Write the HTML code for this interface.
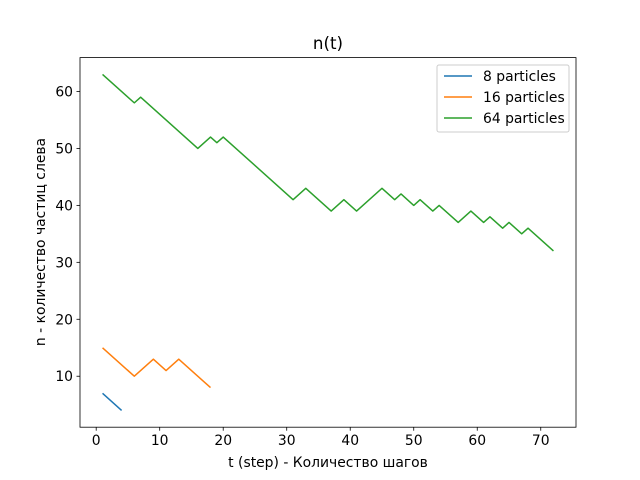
<!DOCTYPE html>
<html><head><meta charset="utf-8"><style>
body{margin:0;background:#fff}
svg{display:block;font-family:"DejaVu Sans","Liberation Sans",sans-serif}
</style></head><body>
<svg id="chart" width="640" height="480" xmlns="http://www.w3.org/2000/svg">
<rect width="640" height="480" fill="#fff"/>
<text x="328" y="49" font-size="16.7" text-anchor="middle">n(t)</text>
<g id="plot"></g>
<rect x="80" y="57.6" width="496" height="369.6" fill="none" stroke="#000" stroke-width="0.8"/>
<text x="328" y="467" font-size="13.9" text-anchor="middle">t (step) - Количество шагов</text>
<text transform="translate(45,242) rotate(-90)" font-size="13.9" text-anchor="middle">n - количество частиц слева</text>
<g>
<rect x="437" y="65" width="132" height="67" rx="2" fill="#fff" fill-opacity="0.8" stroke="#ccc" stroke-width="1"/>
<line x1="444" y1="76" x2="472" y2="76" stroke="#1f77b4" stroke-width="1.5"/>
<text x="483" y="81" font-size="13.9">8 particles</text>
<line x1="444" y1="97" x2="472" y2="97" stroke="#ff7f0e" stroke-width="1.5"/>
<text x="483" y="102" font-size="13.9">16 particles</text>
<line x1="444" y1="118" x2="472" y2="118" stroke="#2ca02c" stroke-width="1.5"/>
<text x="483" y="123" font-size="13.9">64 particles</text>
</g>
</svg>
<script>
const t8=[1,4];
const n8=[7,4];
const t16=[1,6,9,11,13,18];
const n16=[15,10,13,11,13,8];
const t64=[1,6,7,16,18,19,20,31,33,37,39,41,45,47,48,50,51,53,54,57,59,61,62,64,65,67,68,72];
const n64=[63,58,59,50,52,51,52,41,43,39,41,39,43,41,42,40,41,39,40,37,39,37,38,36,37,35,36,32];
const xTicks=[0,10,20,30,40,50,60,70];
const yTicks=[10,20,30,40,50,60];
const NS="http://www.w3.org/2000/svg";
const L=80,R=576,T=57.6,B=427.2;
const allT=t8.concat(t16,t64), allN=n8.concat(n16,n64);
let xmin=Math.min(...allT),xmax=Math.max(...allT),ymin=Math.min(...allN),ymax=Math.max(...allN);
const xp=(xmax-xmin)*0.05,yp=(ymax-ymin)*0.05;xmin-=xp;xmax+=xp;ymin-=yp;ymax+=yp;
const sx=v=>L+(v-xmin)/(xmax-xmin)*(R-L);
const sy=v=>B-(v-ymin)/(ymax-ymin)*(B-T);
const g=document.getElementById('plot');
function mk(tag,a){const e=document.createElementNS(NS,tag);for(const k in a)e.setAttribute(k,a[k]);g.appendChild(e);return e;}
xTicks.forEach(v=>{const x=sx(v);
 const l=mk('line',{x1:x,x2:x,y1:B,y2:B+3.5,stroke:'#000','stroke-width':0.8});
 
 
 const t=mk('text',{x:x,y:B+18,'font-size':13.9,'text-anchor':'middle'});t.textContent=v;
 
 });
yTicks.forEach(v=>{const y=sy(v);
 const l=mk('line',{x1:L-3.5,x2:L,y1:y,y2:y,stroke:'#000','stroke-width':0.8});
 
 
 const t=mk('text',{x:L-7,y:y+5,'font-size':13.9,'text-anchor':'end'});t.textContent=v;
 
 });
function line(ts,ns,c,name){const p=mk('polyline',{points:ts.map((v,i)=>sx(v)+','+sy(ns[i])).join(' '),fill:'none',stroke:c,'stroke-width':1.5,'stroke-linejoin':'round'});
 
 }
line(t8,n8,'#1f77b4','series-8-particles');
line(t16,n16,'#ff7f0e','series-16-particles');
line(t64,n64,'#2ca02c','series-64-particles');
</script>
</body></html>
